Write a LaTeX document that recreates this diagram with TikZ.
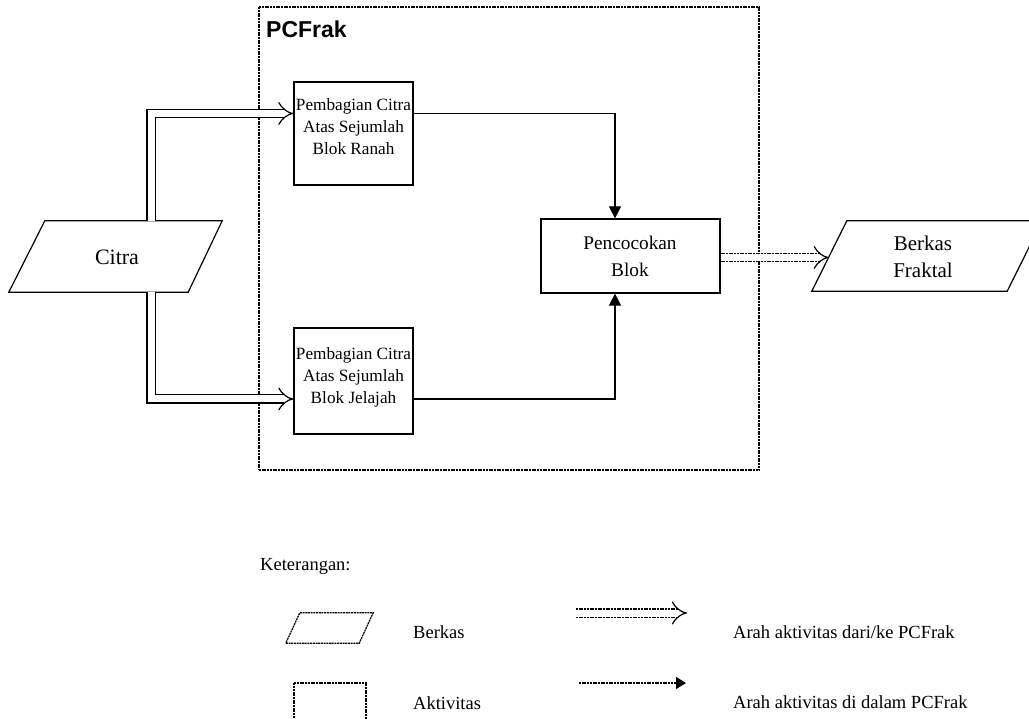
\documentclass[tikz,border=0pt]{standalone}
\usepackage{fontspec}
\setmainfont{Liberation Serif}
\newfontfamily\pcsans{Liberation Sans}
\usetikzlibrary{arrows.meta,calc}
\begin{document}
\begin{tikzpicture}[x=1pt,y=-1pt,
  txt/.style={font=\fontsize{17.2}{22}\selectfont, align=center, inner sep=0pt},
  ltxt/.style={font=\fontsize{18.5}{22}\selectfont, anchor=west, inner sep=0pt},
  proc/.style={draw, line width=1.2pt, minimum width=119pt, minimum height=103pt, inner sep=0pt},
  ghost/.style={draw=none, inner sep=0pt},
  dots/.style={line width=1.2pt, dash pattern=on 2pt off 0.7pt},
  dbl/.style={double, double distance=7pt, line width=1.2pt, -{Implies}},
  sarrow/.style={line width=1.2pt, -{Triangle[length=12pt,width=12pt]}},
  file/.style={line width=1.2pt, line join=miter}
]
\useasboundingbox (0,0) rectangle (1029,719);

% PCFrak frame
\node[draw, dots, minimum width=500pt, minimum height=463pt, inner sep=0pt] (frame) at (509,238.5) {};
\node[anchor=west, inner sep=0pt, font=\pcsans\bfseries\fontsize{23}{26}\selectfont] (pctitle) at (266,29) {PCFrak};

% Citra
\node[ghost, minimum width=213pt, minimum height=71pt] (citra) at (115.5,256.5) {};
\draw[file] (citra.south west) -- ($(citra.south east)+(-34,0)$) -- (citra.north east) -- ($(citra.north west)+(36,0)$) -- cycle;
\node[txt, font=\fontsize{22}{27}\selectfont] (citrat) at (117,257) {Citra};

% Berkas Fraktal
\node[ghost, minimum width=230pt, minimum height=70pt] (bf) at (927,256) {};
\draw[file] (bf.south west) -- ($(bf.south east)+(-35,0)$) -- (bf.north east) -- ($(bf.north west)+(35,0)$) -- cycle;
\node[txt, font=\fontsize{21}{27}\selectfont] (bft) at (923,256.5) {Berkas\\Fraktal};

% process boxes
\node[proc] (box1) at (353.5,133.5) {};
\node[txt] (box1t) at (353.5,127) {Pembagian Citra\\Atas Sejumlah\\Blok Ranah};
\node[proc, minimum height=106pt] (box2) at (353.5,381) {};
\node[txt] (box2t) at (353.5,377) {Pembagian Citra\\Atas Sejumlah\\Blok Jelajah};
\node[proc, minimum width=179pt, minimum height=74pt] (pcb) at (630.5,256) {};
\node[txt, font=\fontsize{19.3}{27}\selectfont] (pcbt) at (630,256.5) {Pencocokan\\Blok};

% connectors
\draw[dbl] ([xshift=35.5pt]citra.north) |- ([yshift=20pt]box1.west);
\draw[dbl] ([xshift=35.5pt]citra.south) |- ([yshift=-18pt]box2.west);
\draw[sarrow] ([yshift=20pt]box1.east) -| ([xshift=-15.5pt]pcb.north);
\draw[sarrow] ([yshift=-18pt]box2.east) -| ([xshift=-15.5pt]pcb.south);
\draw[dbl, dots] ([yshift=-1.5pt]pcb.east) -- ([xshift=17pt,yshift=-1.5pt]bf.west);

% legend
\node[ltxt] (ket) at (260,566) {Keterangan:};
\node[ghost, minimum width=87pt, minimum height=30pt] (lpar) at (329.5,628) {};
\draw[file, dots] (lpar.south west) -- ($(lpar.south east)+(-14,0)$) -- (lpar.north east) -- ($(lpar.north west)+(14,0)$) -- cycle;
\node[ltxt] (lberkas) at (413,632) {Berkas};
\node[draw, dots, minimum width=72pt, minimum height=50pt, inner sep=0pt] (lrect) at (330,708) {};
\node[ltxt] (lakt) at (413,703) {Aktivitas};
\coordinate (la1) at (576,613);
\coordinate (la2) at (687,613);
\draw[dbl, dots] (la1) -- (la2);
\node[ltxt] (ld1) at (733,632) {Arah aktivitas dari/ke PCFrak};
\coordinate (lb1) at (579,683);
\coordinate (lb2) at (686,683);
\draw[dots, -{Triangle[length=10pt,width=12pt]}] (lb1) -- (lb2);
\node[ltxt] (ld2) at (733,702) {Arah aktivitas di dalam PCFrak};
\end{tikzpicture}
\end{document}
